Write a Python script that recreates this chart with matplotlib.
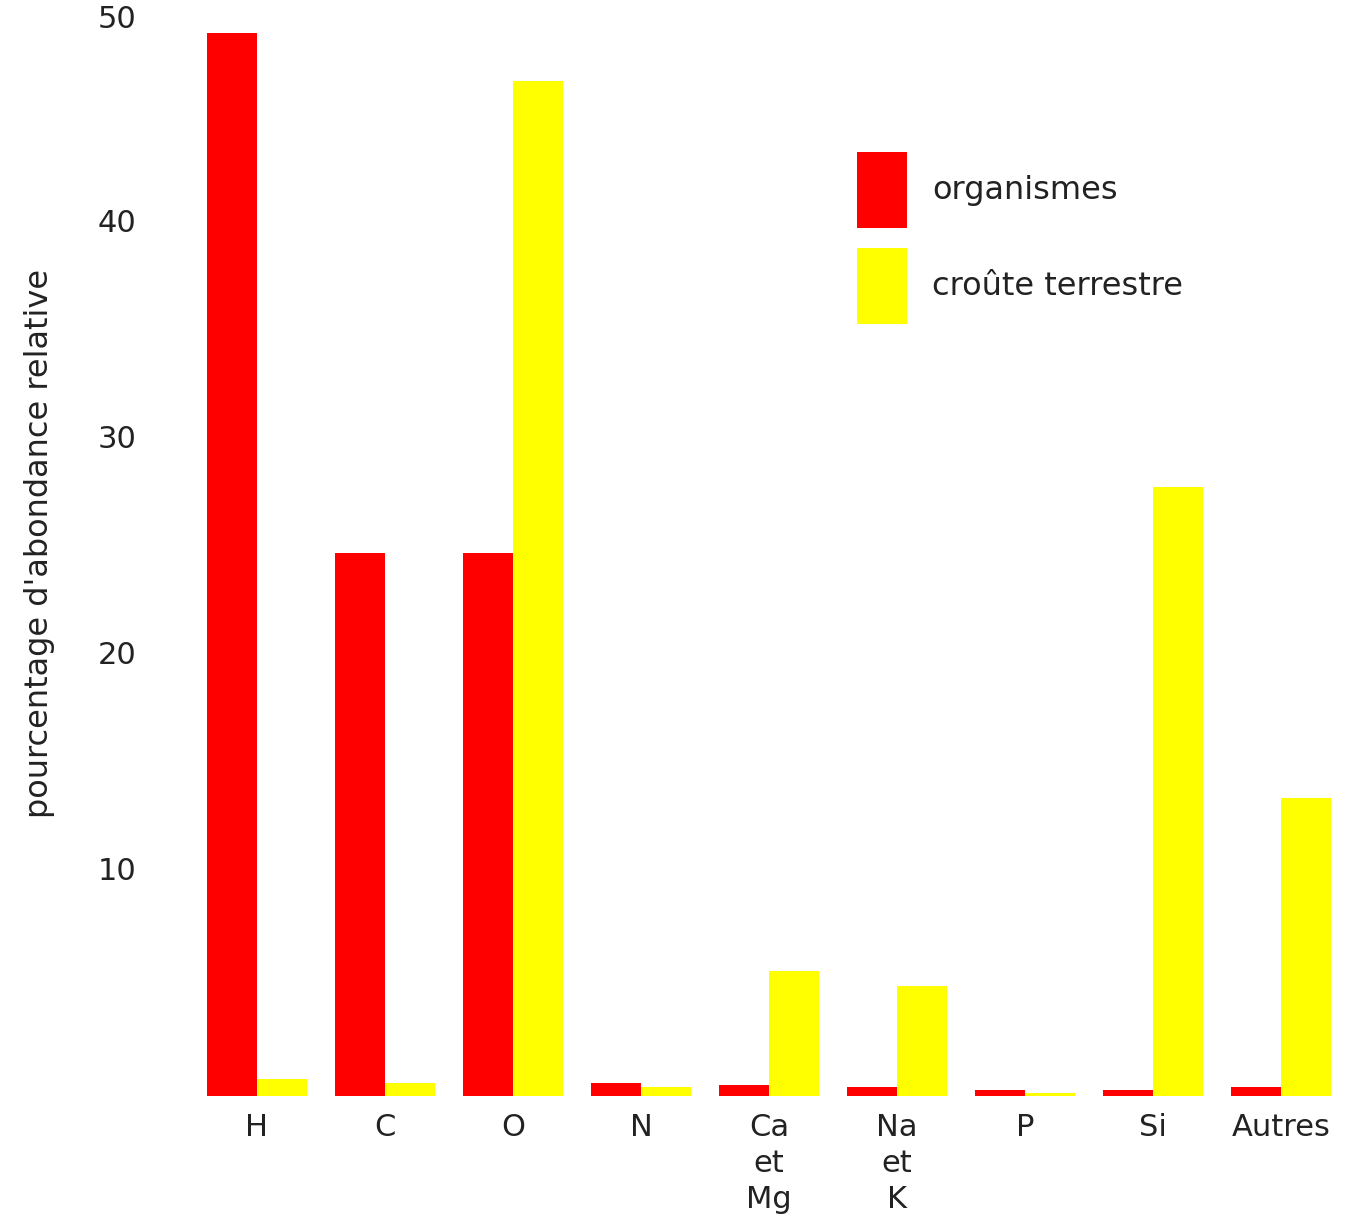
import matplotlib
matplotlib.use("Agg")
import matplotlib.pyplot as plt
from matplotlib.transforms import ScaledTranslation
import numpy as np

categories = ["H", "C", "O", "N", "Ca\net\nMg", "Na\net\nK", "P", "Si", "Autres"]
organismes = [49.2, 25.15, 25.15, 0.6, 0.5, 0.4, 0.3, 0.3, 0.4]
croute = [0.8, 0.6, 47.0, 0.4, 5.8, 5.1, 0.15, 28.2, 13.8]
yticks = [10, 20, 30, 40, 50]
ytick_labels = ["10", "20", "30", "40", "50"]
series_labels = ["organismes", "croûte terrestre"]

plt.rcParams['font.family'] = ['DejaVu Sans']

fig = plt.figure(figsize=(13.5, 12.23), dpi=100)
ax = fig.add_axes([193/1350, 127/1223, 1152/1350, 1080/1223])

x = np.arange(len(categories))
w = 0.39
b1 = ax.bar(x - w/2, organismes, width=w, color="#ff0000", label=series_labels[0])
b2 = ax.bar(x + w/2, croute, width=w, color="#ffff00", label=series_labels[1])

ax.set_xlim(-0.5, len(categories) - 0.5)
ax.set_ylim(0, 50)
for s in ax.spines.values():
    s.set_visible(False)

ax.set_yticks(yticks)
ax.set_yticklabels(ytick_labels, fontsize=22, color="#222222")
ax.tick_params(axis="y", length=0, pad=41)
for tick in ax.yaxis.get_major_ticks()[:-1]:
    tick.label1.set_transform(tick.label1.get_transform() +
                              ScaledTranslation(0, 0.11, fig.dpi_scale_trans))

ax.set_xticks(x)
ax.set_xticklabels(categories, fontsize=22, color="#222222", linespacing=1.32)
ax.tick_params(axis="x", length=0, pad=12)

ax.set_ylabel("pourcentage d'abondance relative", fontsize=23, color="#222222")
ax.yaxis.set_label_coords(-0.120, 0.512)

leg = ax.legend(handles=[b1, b2], loc="upper left",
                bbox_to_anchor=(857/1350, 1 - 152/1223), bbox_transform=fig.transFigure,
                frameon=False, fontsize=23, handlelength=1.55, handleheight=3.3,
                handletextpad=0.8, labelspacing=0.6, borderpad=0, borderaxespad=0)
for t in leg.get_texts():
    t.set_color("#222222")

fig.savefig("out.png", dpi=100, facecolor="white")
